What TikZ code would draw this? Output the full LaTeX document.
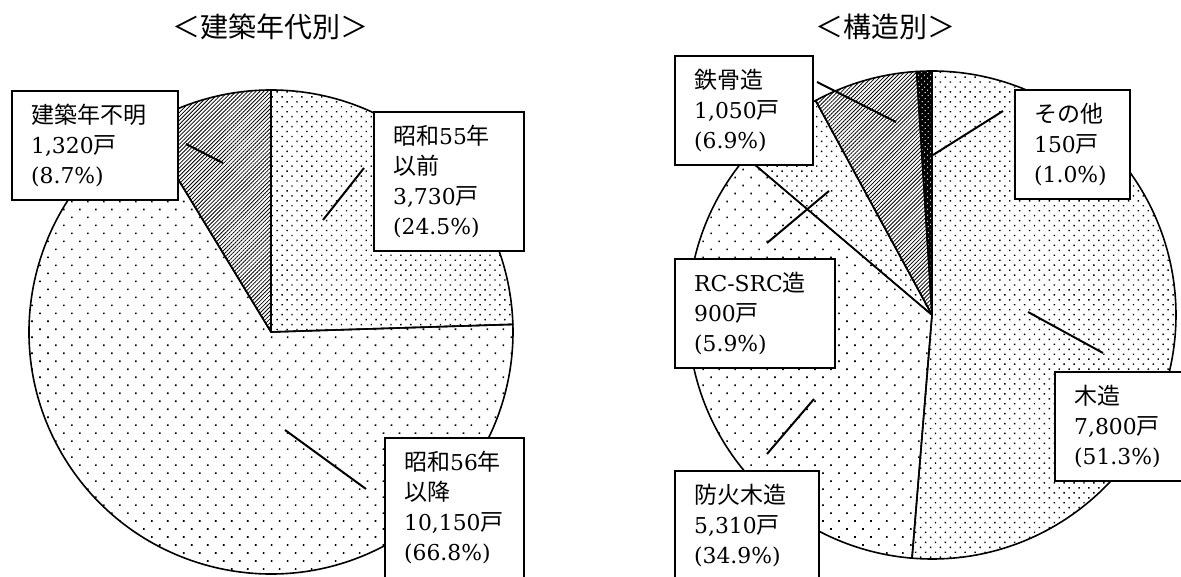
\documentclass[tikz,border=0pt]{standalone}
\usepackage{fontspec}
\setmainfont{DejaVu Serif}[Scale=0.95]
\newfontfamily\jpfont{Noto Sans CJK JP}
\newcommand{\J}[1]{{\jpfont #1}}
\usetikzlibrary{patterns.meta}
\tikzset{
  lbl/.style={draw, line width=2.3pt, fill=white, anchor=north west, align=left,
    inner xsep=19pt, inner ysep=13pt, font=\fontsize{23}{30}\selectfont},
  ttl/.style={font=\fontsize{28}{32}\selectfont\jpfont},
  lead/.style={line width=2pt},
  slice/.style={line width=1.6pt, line join=round},
  sparse/.style={pattern={Dots[distance=11.3pt,radius=1.15pt,angle=45]}},
  dense/.style={pattern={Dots[distance=7pt,radius=1pt,angle=45]}},
  hatch/.style={pattern={Lines[distance=2.8pt,angle=45,line width=0.8pt]}},
}
\begin{document}
\begin{tikzpicture}[x=1pt,y=1pt]
\useasboundingbox (0,0) rectangle (1181,577);
\clip (0,0) rectangle (1181,577);
% titles
\node[ttl] (t1) at (270,550) {＜建築年代別＞};
\node[ttl] (t2) at (885,550) {＜構造別＞};
% left pie
\def\pieR{242}
\coordinate (L) at (271,245);
\draw[slice,sparse] (L) -- ++(121.3:\pieR) arc[start angle=121.3,end angle=361.8,radius=\pieR] -- cycle;
\draw[slice,dense] (L) -- ++(1.8:\pieR) arc[start angle=1.8,end angle=90,radius=\pieR] -- cycle;
\draw[slice,hatch] (L) -- ++(90:\pieR) arc[start angle=90,end angle=121.3,radius=\pieR] -- cycle;
% right pie
\def\pieS{244}
\coordinate (R) at (932,262);
\draw[slice,dense] (R) -- ++(-94.7:\pieS) arc[start angle=-94.7,end angle=90,radius=\pieS] -- cycle;
\draw[slice,sparse] (R) -- ++(139.7:\pieS) arc[start angle=139.7,end angle=265.3,radius=\pieS] -- cycle;
\draw[slice,dense] (R) -- ++(118.5:\pieS) arc[start angle=118.5,end angle=139.7,radius=\pieS] -- cycle;
\draw[slice,hatch] (R) -- ++(93.6:\pieS) arc[start angle=93.6,end angle=118.5,radius=\pieS] -- cycle;
\fill[black] (R) -- ++(90:\pieS) arc[start angle=90,end angle=93.6,radius=\pieS] -- cycle;
\fill[pattern={Dots[distance=4pt,radius=0.7pt,angle=45]},pattern color=white] (R) -- ++(90:\pieS) arc[start angle=90,end angle=93.6,radius=\pieS] -- cycle;
\draw[slice] (R) -- ++(90:\pieS) arc[start angle=90,end angle=93.6,radius=\pieS] -- cycle;
% leader lines
\coordinate (u1) at (186,433); \coordinate (u2) at (223,414);
\coordinate (a1) at (364,409); \coordinate (a2) at (323,357);
\coordinate (b1) at (285,147); \coordinate (b2) at (366,88);
\coordinate (s1) at (817,495); \coordinate (s2) at (896,455);
\coordinate (o1) at (1003,466); \coordinate (o2) at (933,422);
\coordinate (c1) at (829,386); \coordinate (c2) at (767,334);
\coordinate (w1) at (1028,265); \coordinate (w2) at (1103,224);
\coordinate (f1) at (814,178); \coordinate (f2) at (767,123);
\foreach \p/\q in {u1/u2,a1/a2,b1/b2,s1/s2,o1/o2,c1/c2,w1/w2,f1/f2}
  \draw[lead] (\p) -- (\q);
% label boxes
\node[lbl, text width=128pt] (unk) at (11,487) {\J{建築年不明}\\1,320\J{戸}\\(8.7\%)};
\node[lbl, text width=112pt] (s55) at (373,466) {\J{昭和}55\J{年}\\\J{以前}\\3,730\J{戸}\\(24.5\%)};
\node[lbl, text width=101pt, text depth=150pt] (s56) at (384,140) {\J{昭和}56\J{年}\\\J{以降}\\10,150\J{戸}\\(66.8\%)};
\node[lbl, text width=100pt] (stl) at (674,522) {\J{鉄骨造}\\1,050\J{戸}\\(6.9\%)};
\node[lbl, text width=77pt] (oth) at (1014,488) {\J{その他}\\150\J{戸}\\(1.0\%)};
\node[lbl, text width=122pt] (rc) at (674,319) {RC-SRC\J{造}\\900\J{戸}\\(5.9\%)};
\node[lbl, text width=112pt] (wood) at (1054,206) {\J{木造}\\7,800\J{戸}\\(51.3\%)};
\node[lbl, text width=106pt, text depth=150pt] (fire) at (674,107) {\J{防火木造}\\5,310\J{戸}\\(34.9\%)};
\end{tikzpicture}
\end{document}
